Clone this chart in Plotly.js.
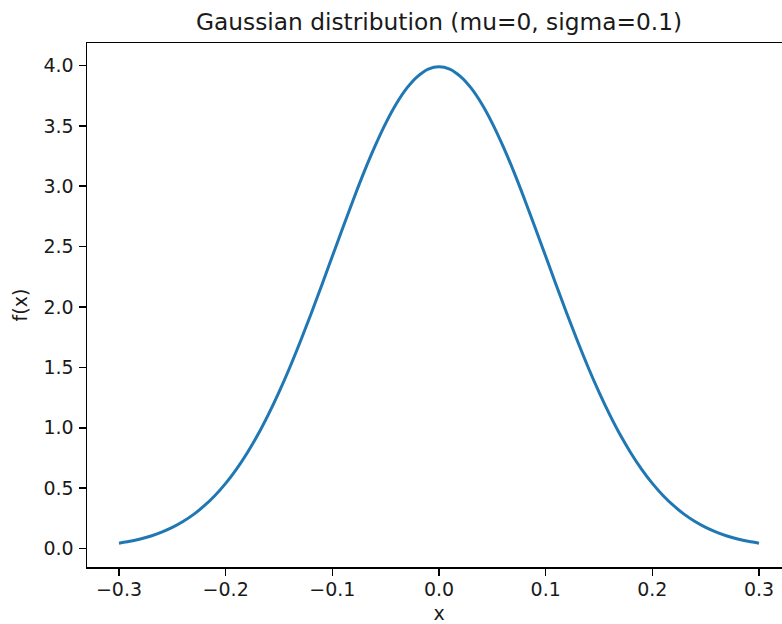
<!DOCTYPE html>
<html>
<head>
<meta charset="utf-8">
<script src="https://cdn.plot.ly/plotly-3.0.1.min.js"></script>
<style>
html,body{margin:0;padding:0;overflow:hidden;background:#fff;width:782px;height:624px;}
#chart{width:800px;height:624px;}
</style>
</head>
<body>
<div id="chart"></div>
<script>
// Values
const xValues = [-0.30,-0.29,-0.28,-0.27,-0.26,-0.25,-0.24,-0.23,-0.22,-0.21,-0.20,-0.19,-0.18,-0.17,-0.16,-0.15,-0.14,-0.13,-0.12,-0.11,-0.10,-0.09,-0.08,-0.07,-0.06,-0.05,-0.04,-0.03,-0.02,-0.01,0.00,0.01,0.02,0.03,0.04,0.05,0.06,0.07,0.08,0.09,0.10,0.11,0.12,0.13,0.14,0.15,0.16,0.17,0.18,0.19,0.20,0.21,0.22,0.23,0.24,0.25,0.26,0.27,0.28,0.29,0.30];
const fValues = [0.044,0.060,0.079,0.104,0.136,0.175,0.224,0.283,0.355,0.440,0.540,0.656,0.790,0.940,1.109,1.295,1.497,1.714,1.942,2.179,2.420,2.661,2.897,3.123,3.332,3.521,3.683,3.814,3.910,3.970,3.989,3.970,3.910,3.814,3.683,3.521,3.332,3.123,2.897,2.661,2.420,2.179,1.942,1.714,1.497,1.295,1.109,0.940,0.790,0.656,0.540,0.440,0.355,0.283,0.224,0.175,0.136,0.104,0.079,0.060,0.044];
const xTicks = [-0.3,-0.2,-0.1,0.0,0.1,0.2,0.3];
const yTicks = [0.0,0.5,1.0,1.5,2.0,2.5,3.0,3.5,4.0];
const titleText = "Gaussian distribution (mu=0, sigma=0.1)";

const font = {family: "DejaVu Sans", color: "#1a1a1a", size: 19};

const trace = {
  x: xValues, y: fValues, type: "scatter", mode: "lines",
  line: {color: "#1f77b4", width: 3, shape: "spline"},
  hoverinfo: "skip"
};

const axisCommon = {
  showgrid: false, zeroline: false, showline: true, linecolor: "#000", linewidth: 1.5,
  mirror: true, ticks: "outside", ticklen: 7, tickwidth: 1.5, tickcolor: "#000",
  tickfont: font, tickformat: ".1f", tickmode: "array"
};

const layout = {
  width: 800, height: 624,
  margin: {l: 87, r: 9, t: 43, b: 57, pad: 0},
  paper_bgcolor: "#fff", plot_bgcolor: "#fff",
  font: font,
  showlegend: false,
  title: {text: titleText, font: {family: "DejaVu Sans", size: 23.3, color: "#1a1a1a"},
          x: 0.5, xref: "paper", y: 1, yref: "paper", yanchor: "bottom", pad: {b: 13}},
  xaxis: Object.assign({}, axisCommon, {
    range: [-0.33, 0.33], tickvals: xTicks, ticklabelstandoff: -2,
    title: {text: "x", font: font, standoff: 10}
  }),
  yaxis: Object.assign({}, axisCommon, {
    range: [-0.1525, 4.186], tickvals: yTicks, ticklabelstandoff: 1,
    title: {text: "f(x)", font: font, standoff: 11}
  })
};

Plotly.newPlot("chart", [trace], layout, {displayModeBar: false, staticPlot: true});
</script>
</body>
</html>
